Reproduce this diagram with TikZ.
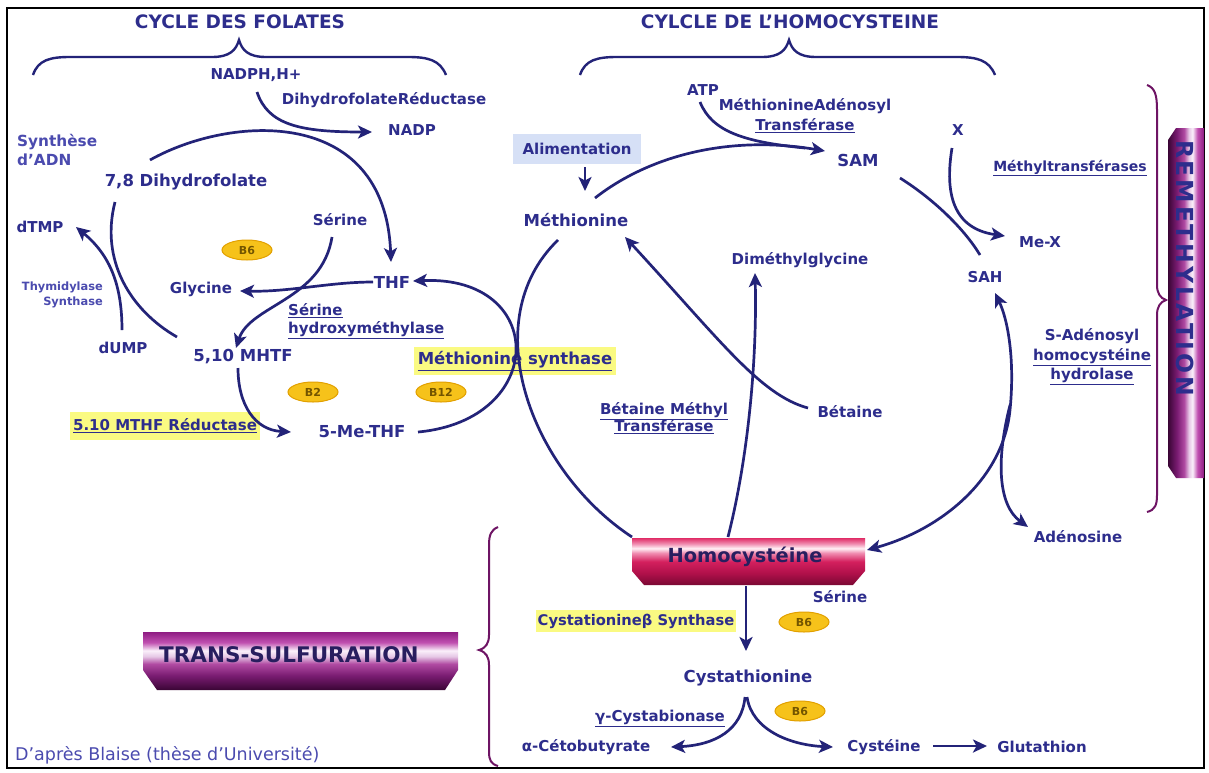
\documentclass[tikz,border=0pt]{standalone}
\usepackage{fontspec}
\setmainfont{DejaVu Sans}
\usetikzlibrary{arrows.meta,shapes.geometric}
\definecolor{ln}{RGB}{35,35,120}
\definecolor{tx}{RGB}{45,45,140}
\definecolor{lt}{RGB}{75,75,175}
\definecolor{hl}{RGB}{250,250,130}
\definecolor{ali}{RGB}{214,224,246}
\definecolor{ovf}{RGB}{246,194,26}
\definecolor{ovd}{RGB}{226,160,0}
\definecolor{ovt}{RGB}{115,85,0}
\definecolor{pbr}{RGB}{110,20,100}
\definecolor{bnt}{RGB}{40,30,95}
\definecolor{hA}{RGB}{122,8,51}
\definecolor{hB}{RGB}{176,16,74}
\definecolor{hC}{RGB}{212,32,94}
\definecolor{hD}{RGB}{240,140,176}
\definecolor{hE}{RGB}{255,240,245}
\definecolor{hF}{RGB}{224,44,102}
\definecolor{tA}{RGB}{58,5,53}
\definecolor{tB}{RGB}{122,28,114}
\definecolor{tC}{RGB}{176,74,162}
\definecolor{tD}{RGB}{230,200,230}
\definecolor{tE}{RGB}{250,240,250}
\definecolor{tF}{RGB}{192,80,176}
\definecolor{tG}{RGB}{142,28,130}
\pgfdeclareverticalshading{homosh}{100bp}{color(0bp)=(hA); color(25bp)=(hA); color(37.5bp)=(hB); color(50bp)=(hC); color(59bp)=(hD); color(64bp)=(hE); color(69bp)=(hD); color(75bp)=(hF); color(100bp)=(hF)}
\pgfdeclareverticalshading{transsh}{100bp}{color(0bp)=(tA); color(25bp)=(tA); color(37.5bp)=(tB); color(47.5bp)=(tC); color(54bp)=(tD); color(59bp)=(tE); color(66bp)=(tF); color(75bp)=(tG); color(100bp)=(tG)}
\pgfdeclarehorizontalshading{remsh}{100bp}{color(0bp)=(tA); color(25bp)=(tA); color(37.5bp)=(tB); color(47.5bp)=(tC); color(54bp)=(tD); color(59bp)=(tE); color(66bp)=(tF); color(75bp)=(tG); color(100bp)=(tG)}
\begin{document}
\begin{tikzpicture}[x=1pt,y=-1pt,
  conn/.style={draw=ln,line width=2.7pt},
  arr/.style={conn,-{Stealth[length=14pt,width=13pt,inset=3.5pt]}},
  darr/.style={conn,{Stealth[length=14pt,width=13pt,inset=3.5pt]}-{Stealth[length=14pt,width=13pt,inset=3.5pt]}},
  lbl/.style={text=tx,font=\fontsize{15}{18}\selectfont\bfseries,inner sep=0pt},
  met/.style={text=tx,font=\fontsize{16.5}{19}\selectfont\bfseries,inner sep=0pt},
  ttl/.style={text=tx,font=\fontsize{18.5}{20}\selectfont\bfseries,inner sep=0pt},
  small/.style={text=lt,font=\fontsize{11.4}{15}\selectfont\bfseries,inner sep=0pt},
  light/.style={text=lt,font=\fontsize{15.3}{19}\selectfont\bfseries,inner sep=0pt},
  oval/.style={ellipse,fill=ovf,draw=ovd,line width=1pt,minimum width=50pt,minimum height=20pt,inner sep=0pt,text=ovt,font=\fontsize{11}{12}\selectfont\bfseries},
  hlbox/.style={fill=hl,inner xsep=3pt,inner ysep=5pt},
  brc/.style={draw=ln,line width=2.4pt},
  pbrc/.style={draw=pbr,line width=2pt},
  bantxt/.style={text=bnt,inner sep=0pt}
]
\useasboundingbox (0,0) rectangle (1209,772);
\fill[white] (0,0) rectangle (1209,772);
\draw[black,line width=1.5pt] (7,8) rectangle (1204,768);

% ---- titles and braces
\node[ttl] (t1) at (240,22) {CYCLE DES FOLATES};
\node[ttl] (t2) at (790,22) {CYLCLE DE L'HOMOCYSTEINE};
\draw[brc] (33,75) .. controls (38,60) and (50,57) .. (70,57) -- (212,57)
  .. controls (230,57) and (236,50) .. (239,40) .. controls (242,50) and (248,57) .. (266,57)
  -- (408,57) .. controls (428,57) and (440,60) .. (446,75);
\draw[brc] (580,75) .. controls (585,60) and (597,57) .. (617,57) -- (762,57)
  .. controls (780,57) and (786,50) .. (789,40) .. controls (792,50) and (798,57) .. (816,57)
  -- (957,57) .. controls (977,57) and (989,60) .. (995,75);
\draw[pbrc] (1147,85) .. controls (1155,88) and (1157,95) .. (1157,110) -- (1157,285)
  .. controls (1157,293) and (1160,298) .. (1166,300) .. controls (1160,302) and (1157,307) .. (1157,315)
  -- (1157,495) .. controls (1157,505) and (1155,510) .. (1147,512);
\draw[pbrc] (498,527) .. controls (491,530) and (489,535) .. (489,545) -- (489,635)
  .. controls (489,643) and (486,648) .. (479,650) .. controls (486,652) and (489,657) .. (489,665)
  -- (489,752) .. controls (489,760) and (491,764) .. (498,766);

% ---- banners
\path[shading=homosh] (632,538) -- (865,538) -- (865,571) -- (853,585) -- (644,585) -- (632,571) -- cycle;
\node[bantxt,font=\fontsize{19.4}{21}\selectfont\bfseries] (homo) at (745,557) {Homocystéine};
\path[shading=transsh] (143,632) -- (458,632) -- (458,670) -- (445,690) -- (157,690) -- (143,670) -- cycle;
\node[bantxt,anchor=west,font=\fontsize{21.5}{23}\selectfont\bfseries] (trans) at (159,655) {TRANS-SULFURATION};
\path[shading=remsh] (1176,128) -- (1204,128) -- (1204,478) -- (1176,478) -- (1168,466) -- (1168,140) -- cycle;
\node[bantxt,rotate=-90,font=\fontsize{23.5}{25}\selectfont\bfseries\addfontfeature{LetterSpace=12},text=tx] (remeth) at (1185,268) {REMETHYLATION};

% ---- folate cycle nodes
\node[lbl] (nadph) at (256,75) {NADPH,H+};
\node[lbl] (dhfr) at (384,100) {DihydrofolateRéductase};
\node[lbl] (nadp) at (412,130) {NADP};
\node[light,anchor=west,align=left] (synth) at (17,150) {Synthèse\\d'ADN};
\node[met] (dhf) at (186,182) {7,8 Dihydrofolate};
\node[lbl] (dtmp) at (40,227) {dTMP};
\node[lbl] (ser1) at (340,220) {Sérine};
\node[oval] (b6a) at (247,250) {B6};
\node[lbl] (gly) at (201,289) {Glycine};
\node[met] (thf) at (392,282) {THF};
\node[small,anchor=east,align=right] (thym) at (103,295) {Thymidylase\\Synthase};
\node[lbl,anchor=west,align=left] (shm) at (288,321) {\underline{Sérine}\\\underline{hydroxyméthylase}};
\node[lbl] (dump) at (123,348) {dUMP};
\node[met] (mthf) at (243,357) {5,10 MHTF};
\node[hlbox,met,inner xsep=4pt,inner ysep=5pt] (ms) at (515,361) {\underline{Méthionine synthase}};
\node[oval] (b2) at (313,392) {B2};
\node[oval] (b12) at (441,392) {B12};
\node[hlbox,lbl,inner xsep=3pt,inner ysep=7pt] (mtr) at (165,426) {\underline{5.10 MTHF Réductase}};
\node[met] (me5) at (362,432) {5-Me-THF};

% ---- homocysteine cycle nodes
\node[lbl] (atp) at (703,90) {ATP};
\node[lbl,align=center,font=\fontsize{15}{20}\selectfont\bfseries] (mat) at (805,116) {MéthionineAdénosyl\\\underline{Transférase}};
\node[lbl] (x) at (958,130) {X};
\node[met] (sam) at (858,160) {SAM};
\node[lbl,fill=ali,inner xsep=10pt,inner ysep=9pt] (ali) at (577,149) {Alimentation};
\node[met] (meth) at (576,220) {Méthionine};
\node[lbl,font=\fontsize{14}{16}\selectfont\bfseries] (mtase) at (1070,168) {\underline{Méthyltransférases}};
\node[lbl] (mex) at (1040,242) {Me-X};
\node[lbl] (dmg) at (800,260) {Diméthylglycine};
\node[lbl] (sah) at (985,277) {SAH};
\node[lbl,align=center,font=\fontsize{15}{19.5}\selectfont\bfseries] (sahh) at (1092,357) {S-Adénosyl\\\underline{homocystéine}\\\underline{hydrolase}};
\node[lbl,align=center,font=\fontsize{15}{17.5}\selectfont\bfseries] (bmt) at (664,418) {\underline{Bétaine Méthyl}\\\underline{Transférase}};
\node[lbl] (bet) at (850,412) {Bétaine};
\node[lbl] (ado) at (1078,537) {Adénosine};

% ---- trans-sulfuration nodes
\node[lbl] (ser2) at (840,597) {Sérine};
\node[hlbox,lbl,font=\fontsize{14.7}{17}\selectfont\bfseries,inner xsep=2pt,inner ysep=4pt] (cbs) at (636,621) {Cystationineβ Synthase};
\node[oval] (b6b) at (804,622) {B6};
\node[met] (cysta) at (748,678) {Cystathionine};
\node[lbl] (gcys) at (660,718) {\underline{γ-Cystabionase}};
\node[oval] (b6c) at (800,711) {B6};
\node[lbl] (akb) at (586,747) {α-Cétobutyrate};
\node[lbl] (cys) at (884,747) {Cystéine};
\node[lbl] (glu) at (1042,747) {Glutathion};
\node[text=lt,font=\fontsize{17.5}{19}\selectfont,anchor=west,inner sep=0pt] (src) at (15,755) {D'après Blaise (thèse d'Université)};

% ---- connector end points
\coordinate (pNa) at (257,92);   \coordinate (pNb) at (372,132);
\coordinate (pDa) at (150,160);  \coordinate (pDb) at (391,262);
\coordinate (pMa) at (177,337);  \coordinate (pMb) at (115,202);
\coordinate (pUa) at (122,330);  \coordinate (pUb) at (76,227);
\coordinate (pTa) at (373,282);  \coordinate (pTb) at (240,291);
\coordinate (pSa) at (332,237);  \coordinate (pSb) at (236,348);
\coordinate (pRa) at (238,368);  \coordinate (pRb) at (291,432);
\coordinate (pEa) at (418,432);  \coordinate (pEb) at (413,281);
\coordinate (pAa) at (585,167);  \coordinate (pAb) at (585,191);
\coordinate (pKa) at (595,198);  \coordinate (pKb) at (825,151);
\coordinate (pPa) at (700,102);  \coordinate (pPb) at (805,148);
\coordinate (pHa) at (900,178);  \coordinate (pHb) at (980,255);
\coordinate (pXa) at (952,148);  \coordinate (pXb) at (1005,236);
\coordinate (pCa) at (558,240);  \coordinate (pCb) at (632,537);
\coordinate (pGa) at (728,537);  \coordinate (pGb) at (755,273);
\coordinate (pBa) at (808,408);  \coordinate (pBb) at (625,237);
\coordinate (pYa) at (995,293);  \coordinate (pYm) at (1010,410); \coordinate (pYb) at (867,550);
\coordinate (pOa) at (1010,405); \coordinate (pOb) at (1028,527);
\coordinate (pZa) at (746,586);  \coordinate (pZb) at (746,651);
\coordinate (pLa) at (745,697);  \coordinate (pLb) at (671,747);
\coordinate (pRa2) at (747,697); \coordinate (pRb2) at (833,747);
\coordinate (pGa2) at (933,746); \coordinate (pGb2) at (987,746);

% ---- folate connectors
\draw[arr] (pNa) .. controls (268,125) and (300,132) .. (pNb);
\draw[arr] (pDa) .. controls (230,115) and (385,105) .. (pDb);
\draw[conn] (pMa) .. controls (130,310) and (100,260) .. (pMb);
\draw[arr] (pUa) .. controls (122,285) and (110,255) .. (pUb);
\draw[arr] (pTa) .. controls (330,282) and (290,292) .. (pTb);
\draw[arr] (pSa) .. controls (322,300) and (250,305) .. (pSb);
\draw[arr] (pRa) .. controls (238,405) and (255,430) .. (pRb);
\draw[arr] (pEa) .. controls (548,420) and (548,275) .. (pEb);

% ---- homocysteine connectors
\draw[arr] (pAa) -- (pAb);
\draw[arr] (pKa) .. controls (650,155) and (730,135) .. (pKb);
\draw[conn] (pPa) .. controls (712,132) and (745,142) .. (pPb);
\draw[conn] (pHa) .. controls (935,200) and (965,230) .. (pHb);
\draw[arr] (pXa) .. controls (946,185) and (948,228) .. (pXb);
\draw[conn] (pCa) .. controls (475,320) and (530,470) .. (pCb);
\draw[arr] (pGa) .. controls (750,450) and (757,350) .. (pGb);
\draw[arr] (pBa) .. controls (760,395) and (720,340) .. (pBb);
\draw[darr] (pYa) .. controls (1008,320) and (1015,360) .. (pYm) .. controls (1003,480) and (940,530) .. (pYb);
\draw[arr] (pOa) .. controls (996,460) and (998,505) .. (pOb);

% ---- trans-sulfuration connectors
\draw[arr] (pZa) -- (pZb);
\draw[arr] (pLa) .. controls (742,730) and (715,745) .. (pLb);
\draw[arr] (pRa2) .. controls (752,730) and (790,745) .. (pRb2);
\draw[arr] (pGa2) -- (pGb2);
\end{tikzpicture}
\end{document}
